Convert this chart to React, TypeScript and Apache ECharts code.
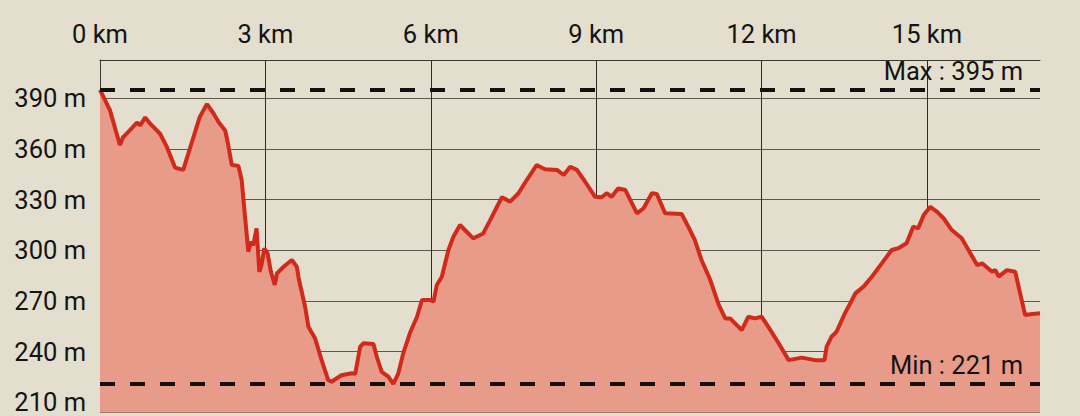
import React, { useEffect, useRef } from "react";
import * as echarts from "echarts";

const distanceKm = [
  0.0, 0.18, 0.36, 0.42, 0.51, 0.67, 0.73, 0.82, 0.91, 1.09, 1.21, 1.36, 1.51, 1.66, 1.81, 1.94,
  2.06, 2.15, 2.27, 2.32, 2.39, 2.51, 2.57, 2.63, 2.69, 2.74, 2.78, 2.84, 2.89, 2.93, 2.98, 3.04,
  3.1, 3.17, 3.21, 3.33, 3.48, 3.57, 3.61, 3.72, 3.78, 3.9, 4.02, 4.14, 4.2, 4.38, 4.57, 4.63,
  4.72, 4.78, 4.96, 5.02, 5.11, 5.23, 5.32, 5.41, 5.5, 5.62, 5.75, 5.84, 5.99, 6.05, 6.11, 6.2,
  6.32, 6.41, 6.53, 6.65, 6.77, 6.95, 7.08, 7.2, 7.29, 7.44, 7.59, 7.74, 7.92, 8.07, 8.29, 8.41,
  8.53, 8.65, 8.8, 8.98, 9.1, 9.19, 9.28, 9.4, 9.53, 9.74, 9.86, 10.01, 10.1, 10.25, 10.55, 10.67,
  10.79, 10.91, 11.07, 11.22, 11.34, 11.43, 11.64, 11.76, 11.88, 12.0, 12.12, 12.31, 12.49, 12.73,
  12.97, 13.14, 13.18, 13.27, 13.36, 13.51, 13.64, 13.7, 13.85, 14.0, 14.18, 14.36, 14.48, 14.63,
  14.75, 14.84, 14.94, 15.06, 15.18, 15.3, 15.45, 15.63, 15.91, 16.0, 16.18, 16.24, 16.3, 16.45,
  16.6, 16.78, 16.87, 17.05,
];

const elevationM = [
  395, 383, 362.4, 367, 370, 375.6, 374, 378.7, 375, 369, 361.4, 349, 347.6, 363.4, 379, 386.6,
  381, 376, 371, 363.4, 350.5, 350, 341.6, 320, 299.2, 305, 303, 313, 287.3, 291.3, 301.2, 298.2,
  287.3, 279.5, 286.4, 290.3, 294.3, 290.3, 282.4, 266.6, 254.8, 248, 235, 223.2, 222.2, 226.1, 227.2, 227,
  243, 245, 244.5, 237, 228, 225.2, 221, 227, 239, 250.9, 260.7, 270.6, 270.6, 269.6, 279.5, 284.4,
  300.2, 308, 315, 311, 307.1, 310, 318, 325.8, 331.4, 328.8, 333.8, 341.6, 350.5, 348, 347.6, 344.6,
  349.5, 347.6, 340.6, 331.7, 331.4, 333.8, 331.7, 336.7, 335.7, 321.9, 324.9, 333.8, 333.4, 321.9, 321.5, 314,
  306.1, 294.3, 282.4, 268, 259.7, 259.7, 252.8, 260.7, 259.7, 260.7, 254.8, 245, 235, 236.5,
  235, 235, 243, 248.9, 251.8, 262.7, 270.6, 274.5, 278.5, 284.4, 292.3, 300.2, 301.2, 304.2,
  314, 313, 320.9, 325.8, 322.9, 319, 312, 307.1, 291.3, 292.3, 287.3, 288.3, 284.4, 288.3,
  287.3, 261.7, 262.1, 262.7,
];

const maxElevation = 395;
const minElevation = 221;
const maxLabel = "Max : 395 m";
const minLabel = "Min : 221 m";

export default function App() {
  const ref = useRef<HTMLDivElement>(null);

  useEffect(() => {
    if (!ref.current) return;
    const chart = echarts.init(ref.current, null, { renderer: "svg" });
    const data = distanceKm.map((d, i) => [d, elevationM[i]]);
    const font = "Roboto, 'Noto Sans', sans-serif";
    chart.setOption({
      animation: false,
      backgroundColor: "#e3decd",
      grid: { left: 100, right: 40, top: 60, bottom: 3.5, containLabel: false },
      xAxis: {
        type: "value",
        position: "top",
        min: 0,
        max: 17.05,
        interval: 3,
        axisLine: { show: true, lineStyle: { color: "#3a362f", width: 1 } },
        axisTick: { show: false },
        axisLabel: {
          formatter: "{value} km",
          color: "#141414",
          fontSize: 25.5,
          fontFamily: font,
          margin: 13,
          showMaxLabel: false,
        },
        splitLine: {
          show: true,
          showMaxLine: false,
          lineStyle: { color: "#2f2b26", width: 1 },
        },
      },
      yAxis: {
        type: "value",
        min: 204,
        max: 412.67,
        splitNumber: 7,
        axisLine: { show: true, lineStyle: { color: "#3a362f", width: 1 } },
        axisTick: { show: false },
        axisLabel: {
          formatter: "{value} m",
          color: "#141414",
          fontSize: 25.5,
          fontFamily: font,
          margin: 14,
          showMinLabel: false,
          showMaxLabel: false,
        },
        splitLine: {
          show: true,
          lineStyle: { color: "#5e584e", width: 1 },
        },
      },
      series: [
        {
          type: "line",
          data,
          showSymbol: false,
          smooth: false,
          lineStyle: { color: "#d22a1a", width: 4 },
          areaStyle: { color: "#e89b88", opacity: 1 },
          z: 2,
          markLine: {
            silent: true,
            symbol: ["none", "none"],
            animation: false,
            lineStyle: { color: "#111111", width: 4, type: [15, 15] },
            label: {
              show: true,
              position: "insideEndTop",
              color: "#141414",
              fontSize: 25.5,
              fontFamily: font,
              distance: [17, 6],
            },
            data: [
              { yAxis: maxElevation, label: { formatter: maxLabel } },
              { yAxis: minElevation, label: { formatter: minLabel } },
            ],
          },
        },
      ],
    });
    return () => chart.dispose();
  }, []);

  return (
    <div
      ref={ref}
      style={{ position: "absolute", left: 0, top: 0, width: 1080, height: 416 }}
    />
  );
}
